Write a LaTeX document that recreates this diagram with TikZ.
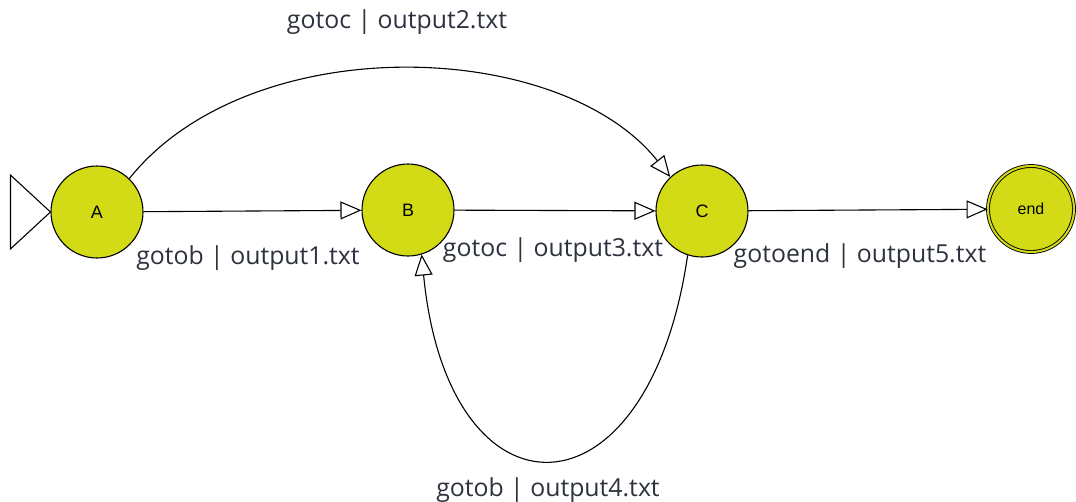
\documentclass[tikz,border=0pt]{standalone}
\usepackage{fontspec}
\setmainfont{Open Sans}
\newfontfamily\statefont{Liberation Sans}
\usetikzlibrary{arrows.meta}
\definecolor{statefill}{RGB}{210,219,22}
\definecolor{labeltext}{RGB}{45,50,62}
\tikzset{
  state/.style={circle, draw=black, line width=1.1pt, fill=statefill,
    minimum size=92pt, inner sep=0pt, font=\statefont\fontsize{18}{18}\selectfont},
  accept/.style={state, minimum size=86pt, double=statefill, double distance=2pt,
    line width=0.9pt, font=\statefont\fontsize{16}{16}\selectfont},
  trans/.style={draw=black, line width=1.1pt,
    -{Triangle[open, length=21pt, width=18pt, fill=white]}},
  lbl/.style={text=labeltext, font=\fontsize{24.8}{25}\selectfont, inner sep=0pt}
}
\begin{document}
\begin{tikzpicture}[x=1pt, y=-1pt]
  \useasboundingbox (0,0) rectangle (1076,501);

  % states
  \node[state]  (A)   at (97,212)   {A};
  \node[state]  (B)   at (408,210)  {B};
  \node[state]  (C)   at (702,211)  {C};
  \node[accept] (E)   at (1031,209) {end};

  % initial-state marker
  \draw[line width=1.1pt, fill=white] (A.west) -- ++(-40,-37) -- ++(0,74) -- cycle;

  % transitions
  \draw[trans] (A) -- (B);
  \draw[trans] (B) -- (C);
  \draw[trans] (C) -- (E);
  \draw[trans] (A.46) .. controls (250,28) and (560,38) .. (C.133);
  \draw[trans] (C.-108) .. controls (648,528) and (448,528) .. (B.-73);

  % transition labels
  \node[lbl] (l2) at (397,22)  {gotoc | output2.txt};
  \node[lbl] (l1) at (248,258) {gotob | output1.txt};
  \node[lbl] (l3) at (553,250) {gotoc | output3.txt};
  \node[lbl] (l5) at (860,256) {gotoend | output5.txt};
  \node[lbl] (l4) at (548,490) {gotob | output4.txt};
\end{tikzpicture}
\end{document}
